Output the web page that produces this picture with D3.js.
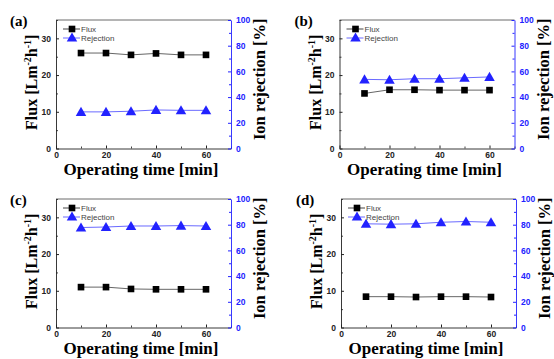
<!DOCTYPE html>
<html>
<head>
<meta charset="utf-8">
<script src="https://cdn.jsdelivr.net/npm/d3@7"></script>
<style>
  body { margin: 0; background: #fff; }
  svg { display: block; }
</style>
</head>
<body>
<svg width="554" height="359"></svg>
<script>
const times = [10, 20, 30, 40, 50, 60];
const panelLabels = ['(a)', '(b)', '(c)', '(d)'];
const fluxA = [26.0, 26.0, 25.5, 25.9, 25.5, 25.5];
const rejA = [28.5, 28.5, 29.0, 30.0, 29.7, 29.7];
const fluxB = [15.0, 16.0, 16.0, 15.9, 15.9, 15.9];
const rejB = [53.8, 53.5, 54.3, 54.3, 55.0, 55.7];
const fluxC = [11.0, 11.0, 10.5, 10.4, 10.4, 10.4];
const rejC = [77.8, 78.2, 79.0, 79.0, 79.3, 79.0];
const fluxD = [8.4, 8.4, 8.3, 8.4, 8.4, 8.3];
const rejD = [80.7, 80.4, 80.7, 81.9, 82.5, 81.9];
const xTicks = [0, 20, 40, 60];
const fluxTicks = [0, 10, 20, 30];
const rejTicks = [0, 20, 40, 60, 80, 100];

const panels = [
  { left: 56, top: 20, right: 231, bottom: 148.5, flux: fluxA, rej: rejA },
  { left: 339.5, top: 20, right: 514.5, bottom: 148.5, flux: fluxB, rej: rejB },
  { left: 56, top: 199, right: 231, bottom: 327.5, flux: fluxC, rej: rejC },
  { left: 341, top: 199, right: 516, bottom: 327.5, flux: fluxD, rej: rejD }
];

const svg = d3.select('svg');
const blue = '#2222ff';
const serif = '"Liberation Serif", "Times New Roman", serif';
const sans = '"Liberation Sans", Arial, sans-serif';

panels.forEach((p, i) => {
  const w = p.right - p.left;
  const h = p.bottom - p.top;
  const g = svg.append('g').attr('transform', `translate(${p.left}, ${p.top})`);

  const x = d3.scaleLinear().domain([0, 70]).range([0, w]);
  const yL = d3.scaleLinear().domain([0, 35]).range([h, 0]);
  const yR = d3.scaleLinear().domain([0, 100]).range([h, 0]);

  // frame
  g.append('line').attr('x1', 0).attr('x2', w).attr('y1', 0).attr('y2', 0)
    .attr('stroke', '#444').attr('stroke-width', 0.8);

  const styleAxis = (sel, color) => {
    sel.select('.domain').attr('stroke', color).attr('stroke-width', 0.9);
    sel.selectAll('.tick line').attr('stroke', color);
    sel.selectAll('.tick text').attr('fill', color)
      .attr('font-family', sans).attr('font-weight', 'bold').attr('font-size', 8.5);
  };

  // minor ticks
  const minor = (scale, vals, axisFn, tr, color) => {
    g.append('g').attr('transform', tr)
      .call(axisFn(scale).tickValues(vals).tickSize(-2).tickFormat(''))
      .call(s => { s.select('.domain').remove(); s.selectAll('line').attr('stroke', color); });
  };
  minor(x, [10, 30, 50, 70], d3.axisBottom, `translate(0, ${h})`, '#444');
  minor(yL, [5, 15, 25, 35], d3.axisLeft, 'translate(0, 0)', '#444');
  minor(yR, [10, 30, 50, 70, 90], d3.axisRight, `translate(${w}, 0)`, blue);

  g.append('g').attr('transform', `translate(0, ${h})`)
    .call(d3.axisBottom(x).tickValues(xTicks).tickSizeInner(-3).tickSizeOuter(0).tickPadding(3))
    .call(s => styleAxis(s, '#222'));
  g.append('g')
    .call(d3.axisLeft(yL).tickValues(fluxTicks).tickSizeInner(-3).tickSizeOuter(0).tickPadding(5))
    .call(s => styleAxis(s, '#222'));
  g.append('g').attr('transform', `translate(${w}, 0)`)
    .call(d3.axisRight(yR).tickValues(rejTicks).tickSizeInner(-3).tickSizeOuter(0).tickPadding(5))
    .call(s => styleAxis(s, blue));

  // series
  const fluxLine = d3.line().x((d, j) => x(times[j])).y(d => yL(d));
  const rejLine = d3.line().x((d, j) => x(times[j])).y(d => yR(d));
  g.append('path').datum(p.flux).attr('d', fluxLine)
    .attr('fill', 'none').attr('stroke', '#666').attr('stroke-width', 1);
  g.append('path').datum(p.rej).attr('d', rejLine)
    .attr('fill', 'none').attr('stroke', '#6a6aff').attr('stroke-width', 1);

  const sq = d3.symbol().type(d3.symbolSquare).size(44);
  const tri = d3.symbol().type(d3.symbolTriangle).size(48);
  g.selectAll('.sq').data(p.flux).enter().append('path')
    .attr('d', sq).attr('fill', '#000')
    .attr('transform', (d, j) => `translate(${x(times[j])}, ${yL(d)})`);
  g.selectAll('.tri').data(p.rej).enter().append('path')
    .attr('d', tri).attr('fill', blue)
    .attr('transform', (d, j) => `translate(${x(times[j])}, ${yR(d) + 1})`);

  // legend
  const lg = g.append('g').attr('transform', 'translate(7, 9)');
  lg.append('line').attr('x1', 0).attr('x2', 17).attr('y1', 0).attr('y2', 0).attr('stroke', '#444');
  lg.append('path').attr('d', sq).attr('transform', 'translate(9, 0)').attr('fill', '#000');
  lg.append('text').attr('x', 18).attr('y', 3).text('Flux')
    .attr('font-family', sans).attr('font-size', 8).attr('fill', '#444');
  lg.append('line').attr('x1', 0).attr('x2', 17).attr('y1', 9).attr('y2', 9).attr('stroke', '#6a6aff');
  lg.append('path').attr('d', tri).attr('transform', 'translate(9, 9.5)').attr('fill', blue);
  lg.append('text').attr('x', 18).attr('y', 12).text('Rejection')
    .attr('font-family', sans).attr('font-size', 8).attr('fill', '#444');

  // panel label
  svg.append('text')
    .attr('x', p.left - (i % 2 === 0 ? 46 : 45))
    .attr('y', p.top + 6)
    .text(panelLabels[i])
    .attr('font-family', serif).attr('font-weight', 'bold').attr('font-size', 15);

  // x title
  svg.append('text')
    .attr('x', p.left + 85)
    .attr('y', p.bottom + 26)
    .attr('text-anchor', 'middle')
    .text('Operating time [min]')
    .attr('font-family', serif).attr('font-weight', 'bold').attr('font-size', 17);

  // left y title
  const lt = svg.append('text')
    .attr('transform', `translate(${p.left - 19}, ${p.top + h / 2 - 2}) rotate(-90)`)
    .attr('text-anchor', 'middle')
    .attr('font-family', serif).attr('font-weight', 'bold').attr('font-size', 16);
  lt.append('tspan').text('Flux [Lm');
  lt.append('tspan').text('-2').attr('dy', -6).attr('font-size', 10);
  lt.append('tspan').text('h').attr('dy', 6);
  lt.append('tspan').text('-1').attr('dy', -6).attr('font-size', 10);
  lt.append('tspan').text(']').attr('dy', 6);

  // right y title
  svg.append('text')
    .attr('transform', `translate(${p.right + 34}, ${p.top + h / 2 - 5}) rotate(-90)`)
    .attr('text-anchor', 'middle')
    .text('Ion rejection [%]')
    .attr('font-family', serif).attr('font-weight', 'bold').attr('font-size', 16.5);
});
</script>
</body>
</html>
